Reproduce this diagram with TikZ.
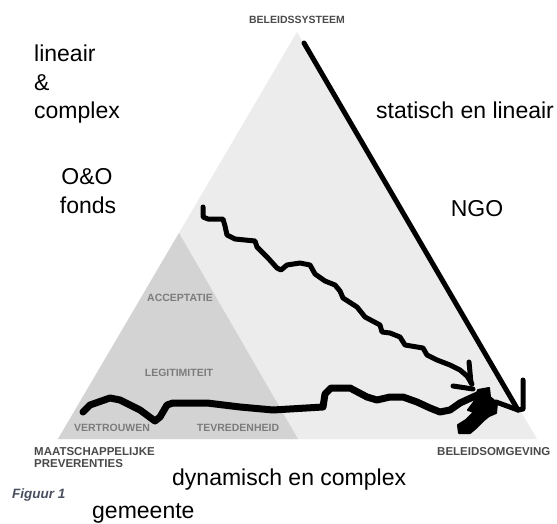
\documentclass[tikz,border=0pt]{standalone}
\usepackage{fontspec}
\setmainfont{Liberation Sans}
\definecolor{outertri}{HTML}{ECECEC}
\definecolor{innertri}{HTML}{D3D3D3}
\definecolor{caplab}{HTML}{4A4A4A}
\definecolor{innerlab}{HTML}{7C7C7C}
\definecolor{figlab}{HTML}{4A5060}
\begin{document}
\begin{tikzpicture}[x=1pt,y=-1pt,
  bigtext/.style={font=\fontsize{23}{28}\selectfont, inner sep=0pt, text=black},
  caplabel/.style={font=\bfseries\fontsize{11.5}{13}\selectfont, inner sep=0pt, text=caplab},
  innerlabel/.style={font=\bfseries\fontsize{10.5}{12}\selectfont, inner sep=0pt, text=innerlab},
  scribble/.style={line width=5pt, line join=round, line cap=round, black},
  thickscribble/.style={line width=7pt, line join=round, line cap=round, black}]
\useasboundingbox (0,0) rectangle (557,524);
\fill[white] (0,0) rectangle (557,524);
% triangles
\coordinate (apex) at (297,32);
\coordinate (bl) at (58,439);
\coordinate (br) at (537,439);
\coordinate (iapex) at (179,233);
\coordinate (ibr) at (298,439);
\fill[outertri] (apex) -- (bl) -- (br) -- cycle;
\fill[innertri] (iapex) -- (bl) -- (ibr) -- cycle;
% labels of the triangles
\node[caplabel, font=\bfseries\fontsize{10.5}{12}\selectfont, anchor=base] (sys) at (297,24) {BELEIDSSYSTEEM};
\node[caplabel, anchor=base west] (maat) at (34,455) {MAATSCHAPPELIJKE};
\node[caplabel, anchor=base west] (prev) at (34,467) {PREVERENTIES};
\node[caplabel, anchor=base west] (omg) at (437,455) {BELEIDSOMGEVING};
\node[innerlabel, anchor=base] (acc) at (180,301) {ACCEPTATIE};
\node[innerlabel, anchor=base] (leg) at (179,376) {LEGITIMITEIT};
\node[innerlabel, anchor=base] (ver) at (112,431) {VERTROUWEN};
\node[innerlabel, anchor=base] (tev) at (238,431) {TEVREDENHEID};
\node[anchor=base west, inner sep=0pt, text=figlab, font=\bfseries\itshape\fontsize{13.5}{15}\selectfont] (fig) at (12,498) {Figuur 1};
% big texts
\node[bigtext, anchor=base west] (lin) at (34,62) {lineair};
\node[bigtext, anchor=base west] (amp) at (34,91) {\&};
\node[bigtext, anchor=base west] (cmp) at (34,119) {complex};
\node[bigtext, anchor=base west] (stat) at (376,119) {statisch en lineair};
\node[bigtext, anchor=base] (oo) at (87,185) {O\&O};
\node[bigtext, anchor=base] (fonds) at (88,213) {fonds};
\node[bigtext, anchor=base] (ngo) at (477,216) {NGO};
\node[bigtext, anchor=base west] (dyn) at (172,485) {dynamisch en complex};
\node[bigtext, anchor=base west] (gem) at (92,518) {gemeente};
% straight arrow along the right edge
\coordinate (s1) at (304,43);
\coordinate (t1) at (518,410);
\draw[scribble] (s1) -- (t1);
\draw[scribble] (523,380) -- (523,409) -- (t1);
\draw[scribble] (496,402) -- (t1);
% middle wiggly arrow
\coordinate (s2) at (203,207);
\coordinate (t2) at (472,384);
\draw[scribble] (s2) -- (203,217) -- (208,219) -- (223,219) -- (225,226) -- (227,235) -- (235,239) -- (255,241) -- (257,247) -- (262,252) -- (268,258) -- (277,268) -- (281,270) -- (287,265) -- (300,263) -- (310,265) -- (315,274) -- (325,281) -- (335,285) -- (340,291) -- (343,298) -- (357,307) -- (365,317) -- (380,325) -- (382,332) -- (390,333) -- (400,337) -- (405,345) -- (423,348) -- (427,355) -- (437,360) -- (450,365) -- (460,370) -- (467,376) -- (t2);
\draw[scribble] (469,362) -- (471,383);
\draw[scribble] (453,386) -- (473,389);
% bottom wiggly line with blob
\coordinate (s3) at (83,412);
\coordinate (t3) at (482,393);
\draw[thickscribble] (s3) -- (90,405) -- (110,398) -- (120,400) -- (140,410) -- (155,421) -- (160,417) -- (167,405) -- (173,403) -- (207,403) -- (240,407) -- (273,410) -- (323,407) -- (325,394) -- (331,388) -- (350,388) -- (367,397) -- (377,400) -- (390,397) -- (403,397) -- (417,402) -- (430,408) -- (440,412) -- (450,410) -- (460,403) -- (473,397) -- (t3);
\filldraw[black, line width=2pt, line join=round] (478,390) -- (489,388) -- (490,397) -- (497,403) -- (496,413) -- (489,416) -- (484,420) -- (476,428) -- (470,433) -- (459,433) -- (458,425) -- (466,420) -- (474,412) -- (468,410) -- (474,402) -- cycle;
\end{tikzpicture}
\end{document}
